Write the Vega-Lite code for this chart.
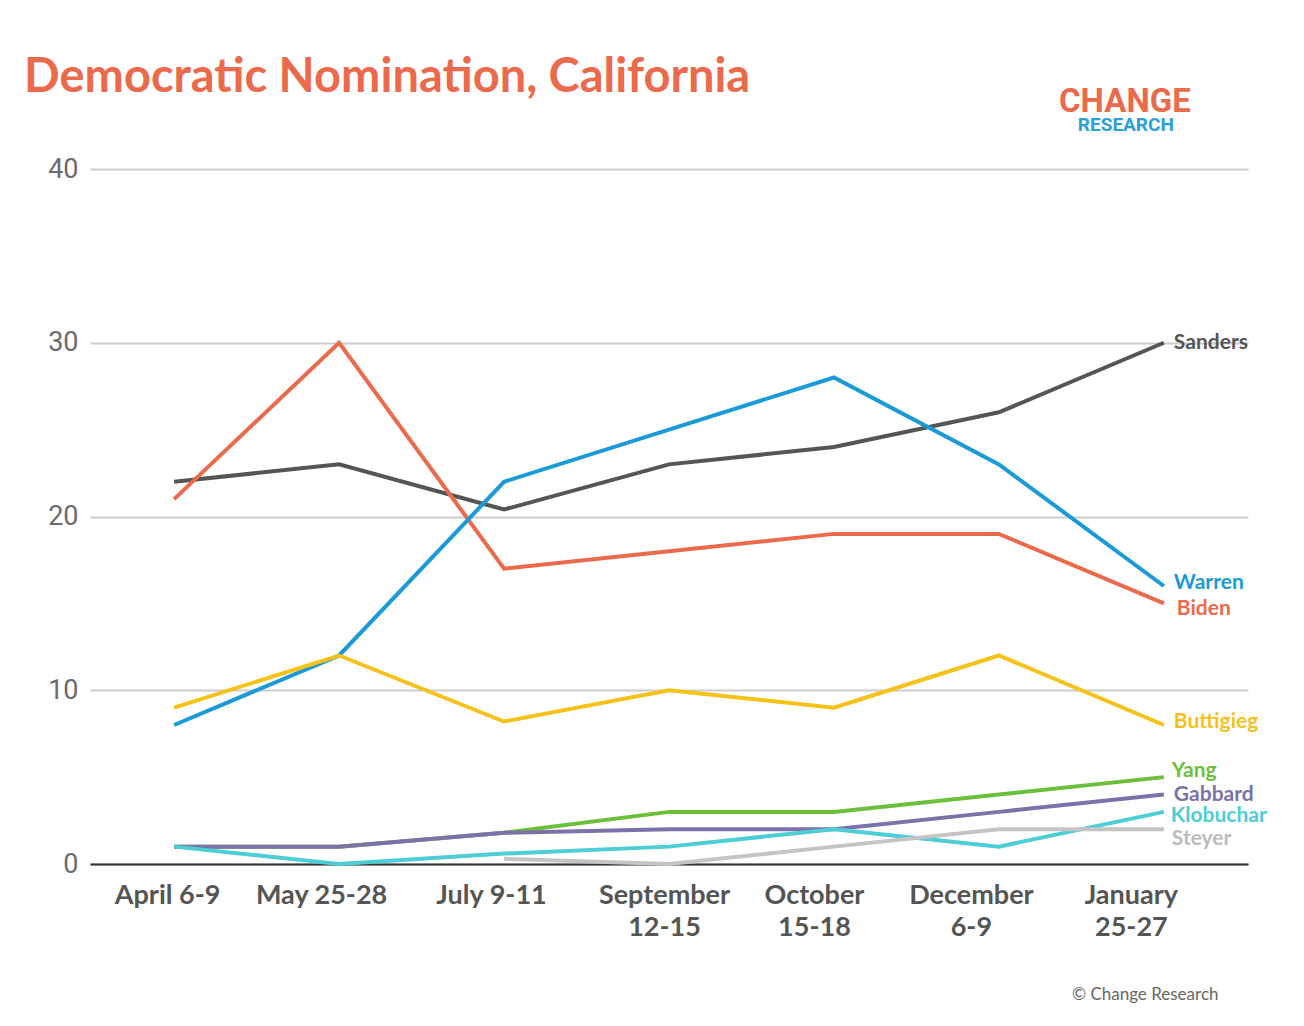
{
  "$schema": "https://vega.github.io/schema/vega-lite/v6.json",
  "autosize": {"type": "none"},
  "width": 1158,
  "height": 695,
  "padding": {"left": 90, "top": 169, "right": 56, "bottom": 162},
  "background": "white",
  "title": {
    "text": "Democratic Nomination, California",
    "anchor": "start",
    "frame": "group",
    "dx": -66,
    "offset": 0,
    "dy": 53,
    "baseline": "alphabetic",
    "font": "Lato",
    "fontSize": 47,
    "fontWeight": "bold",
    "color": "#ec6a4c"
  },
  "config": {
    "view": {"stroke": null},
    "axis": {"labelFont": "Lato", "titleFont": "Lato"}
  },
  "data": {
    "values": [
      {"candidate": "Sanders", "period": "April 6-9", "value": 22},
      {"candidate": "Sanders", "period": "May 25-28", "value": 23},
      {"candidate": "Sanders", "period": "July 9-11", "value": 20.4},
      {"candidate": "Sanders", "period": "September 12-15", "value": 23},
      {"candidate": "Sanders", "period": "October 15-18", "value": 24},
      {"candidate": "Sanders", "period": "December 6-9", "value": 26},
      {"candidate": "Sanders", "period": "January 25-27", "value": 30},
      {"candidate": "Biden", "period": "April 6-9", "value": 21},
      {"candidate": "Biden", "period": "May 25-28", "value": 30},
      {"candidate": "Biden", "period": "July 9-11", "value": 17},
      {"candidate": "Biden", "period": "September 12-15", "value": 18},
      {"candidate": "Biden", "period": "October 15-18", "value": 19},
      {"candidate": "Biden", "period": "December 6-9", "value": 19},
      {"candidate": "Biden", "period": "January 25-27", "value": 15},
      {"candidate": "Warren", "period": "April 6-9", "value": 8},
      {"candidate": "Warren", "period": "May 25-28", "value": 12},
      {"candidate": "Warren", "period": "July 9-11", "value": 22},
      {"candidate": "Warren", "period": "September 12-15", "value": 25},
      {"candidate": "Warren", "period": "October 15-18", "value": 28},
      {"candidate": "Warren", "period": "December 6-9", "value": 23},
      {"candidate": "Warren", "period": "January 25-27", "value": 16},
      {"candidate": "Buttigieg", "period": "April 6-9", "value": 9},
      {"candidate": "Buttigieg", "period": "May 25-28", "value": 12},
      {"candidate": "Buttigieg", "period": "July 9-11", "value": 8.2},
      {"candidate": "Buttigieg", "period": "September 12-15", "value": 10},
      {"candidate": "Buttigieg", "period": "October 15-18", "value": 9},
      {"candidate": "Buttigieg", "period": "December 6-9", "value": 12},
      {"candidate": "Buttigieg", "period": "January 25-27", "value": 8},
      {"candidate": "Yang", "period": "April 6-9", "value": 1},
      {"candidate": "Yang", "period": "May 25-28", "value": 1},
      {"candidate": "Yang", "period": "July 9-11", "value": 1.8},
      {"candidate": "Yang", "period": "September 12-15", "value": 3},
      {"candidate": "Yang", "period": "October 15-18", "value": 3},
      {"candidate": "Yang", "period": "December 6-9", "value": 4},
      {"candidate": "Yang", "period": "January 25-27", "value": 5},
      {"candidate": "Gabbard", "period": "April 6-9", "value": 1},
      {"candidate": "Gabbard", "period": "May 25-28", "value": 1},
      {"candidate": "Gabbard", "period": "July 9-11", "value": 1.8},
      {"candidate": "Gabbard", "period": "September 12-15", "value": 2},
      {"candidate": "Gabbard", "period": "October 15-18", "value": 2},
      {"candidate": "Gabbard", "period": "December 6-9", "value": 3},
      {"candidate": "Gabbard", "period": "January 25-27", "value": 4},
      {"candidate": "Klobuchar", "period": "April 6-9", "value": 1},
      {"candidate": "Klobuchar", "period": "May 25-28", "value": 0},
      {"candidate": "Klobuchar", "period": "July 9-11", "value": 0.6},
      {"candidate": "Klobuchar", "period": "September 12-15", "value": 1},
      {"candidate": "Klobuchar", "period": "October 15-18", "value": 2},
      {"candidate": "Klobuchar", "period": "December 6-9", "value": 1},
      {"candidate": "Klobuchar", "period": "January 25-27", "value": 3},
      {"candidate": "Steyer", "period": "July 9-11", "value": 0.3},
      {"candidate": "Steyer", "period": "September 12-15", "value": 0},
      {"candidate": "Steyer", "period": "October 15-18", "value": 1},
      {"candidate": "Steyer", "period": "December 6-9", "value": 2},
      {"candidate": "Steyer", "period": "January 25-27", "value": 2}
    ]
  },
  "encoding": {
    "x": {
      "field": "period",
      "type": "ordinal",
      "sort": ["April 6-9", "May 25-28", "July 9-11", "September 12-15", "October 15-18", "December 6-9", "January 25-27"],
      "scale": {"type": "point", "padding": 0.51},
      "axis": {
        "title": "© Change Research",
        "titleFontSize": 17,
        "titleFontWeight": "normal",
        "titleColor": "#666666",
        "titleAnchor": "end",
        "titleAlign": "right",
        "titleX": 1128,
        "titleY": 135,
        "titleBaseline": "alphabetic",
        "labelAngle": 0,
        "labelFontSize": 27,
        "labelFontWeight": "bold",
        "labelColor": "#555555",
        "labelPadding": 18,
        "labelLineHeight": 32,
        "labelOffset": {
          "condition": [
            {"test": "datum.value == 'April 6-9'", "value": -7},
            {"test": "datum.value == 'May 25-28'", "value": -18},
            {"test": "datum.value == 'July 9-11'", "value": -13},
            {"test": "datum.value == 'September 12-15'", "value": -5},
            {"test": "datum.value == 'October 15-18'", "value": -20},
            {"test": "datum.value == 'December 6-9'", "value": -28}
          ],
          "value": -33
        },
        "labelExpr": "indexof(['April 6-9','May 25-28','July 9-11'], datum.label) >= 0 ? datum.label : split(datum.label, ' ')",
        "ticks": false,
        "grid": false,
        "domainColor": "#333333",
        "domainWidth": 2
      }
    },
    "y": {
      "field": "value",
      "type": "quantitative",
      "scale": {"domain": [0, 40]},
      "axis": {
        "title": null,
        "values": [0, 10, 20, 30, 40],
        "domain": false,
        "ticks": false,
        "gridColor": "#cccccc",
        "gridWidth": 2,
        "labelFont": "Roboto",
        "labelFontSize": 27,
        "labelColor": "#6b6b6b",
        "labelPadding": 12
      }
    },
    "color": {
      "field": "candidate",
      "type": "nominal",
      "legend": null,
      "scale": {
        "domain": ["Sanders", "Biden", "Warren", "Buttigieg", "Yang", "Gabbard", "Klobuchar", "Steyer"],
        "range": ["#555555", "#ec6a4c", "#1a9ad6", "#f6c21a", "#6cbf3a", "#7a72a9", "#4dcdd6", "#c4c4c4"]
      }
    }
  },
  "layer": [
    {
      "mark": {"type": "line", "strokeWidth": 4},
      "encoding": {
        "order": {"value": null},
        "detail": {"field": "candidate"}
      }
    },
    {
      "transform": [{"filter": "datum.period == 'January 25-27' && indexof(['Sanders','Gabbard'], datum.candidate) >= 0"}],
      "mark": {"type": "text", "align": "left", "baseline": "middle", "dx": 10, "font": "Lato", "fontSize": 21, "fontWeight": "bold"},
      "encoding": {"text": {"field": "candidate"}}
    },
    {
      "transform": [{"filter": "datum.period == 'January 25-27' && indexof(['Warren','Buttigieg'], datum.candidate) >= 0"}],
      "mark": {"type": "text", "align": "left", "baseline": "middle", "dx": 10, "dy": -3, "font": "Lato", "fontSize": 21, "fontWeight": "bold"},
      "encoding": {"text": {"field": "candidate"}}
    },
    {
      "transform": [{"filter": "datum.period == 'January 25-27' && datum.candidate == 'Biden'"}],
      "mark": {"type": "text", "align": "left", "baseline": "middle", "dx": 13, "dy": 6, "font": "Lato", "fontSize": 21, "fontWeight": "bold"},
      "encoding": {"text": {"field": "candidate"}}
    },
    {
      "transform": [{"filter": "datum.period == 'January 25-27' && datum.candidate == 'Yang'"}],
      "mark": {"type": "text", "align": "left", "baseline": "middle", "dx": 8, "dy": -6, "font": "Lato", "fontSize": 21, "fontWeight": "bold"},
      "encoding": {"text": {"field": "candidate"}}
    },
    {
      "transform": [{"filter": "datum.period == 'January 25-27' && datum.candidate == 'Klobuchar'"}],
      "mark": {"type": "text", "align": "left", "baseline": "middle", "dx": 7, "dy": 4, "font": "Lato", "fontSize": 21, "fontWeight": "bold"},
      "encoding": {"text": {"field": "candidate"}}
    },
    {
      "transform": [{"filter": "datum.period == 'January 25-27' && datum.candidate == 'Steyer'"}],
      "mark": {"type": "text", "align": "left", "baseline": "middle", "dx": 8, "dy": 10, "font": "Lato", "fontSize": 21, "fontWeight": "bold"},
      "encoding": {"text": {"field": "candidate"}, "color": {"value": "#bbbbbb"}}
    },
    {
      "data": {"values": [{"period": "January 25-27", "value": 43.3, "word": "CHANGE"}]},
      "mark": {"type": "text", "align": "center", "baseline": "alphabetic", "dx": -39, "font": "Roboto", "fontSize": 33, "fontWeight": "bold"},
      "encoding": {"text": {"field": "word"}, "color": {"value": "#ec6a4c"}}
    },
    {
      "data": {"values": [{"period": "January 25-27", "value": 42.2, "word": "RESEARCH"}]},
      "mark": {"type": "text", "align": "center", "baseline": "alphabetic", "dx": -38, "font": "Roboto", "fontSize": 19, "fontWeight": "bold"},
      "encoding": {"text": {"field": "word"}, "color": {"value": "#2a9fd8"}}
    }
  ]
}
